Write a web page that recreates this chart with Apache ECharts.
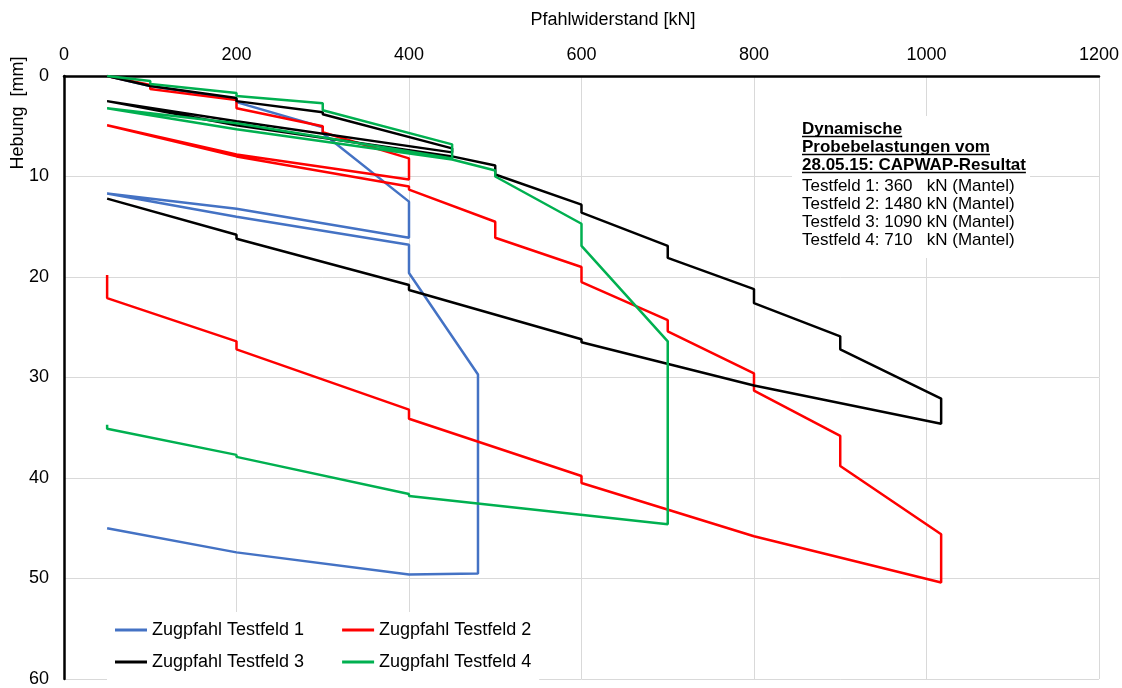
<!DOCTYPE html>
<html>
<head>
<meta charset="UTF-8">
<title>Pfahlwiderstand / Hebung</title>
<script src="https://cdn.jsdelivr.net/npm/echarts@6/dist/echarts.min.js"></script>
<style>
  html, body { margin: 0; padding: 0; background: #fff; }
  #main { width: 1122px; height: 688px; }
</style>
</head>
<body>
<div id="main"></div>
<script>
// Achsen
var xTicks = [0, 200, 400, 600, 800, 1000, 1200];
var yTicks = [0, 10, 20, 30, 40, 50, 60];

// Zugpfahl Testfeld 1 (Last kN / Hebung mm)
var load1  = [50, 100, 200, 200, 300, 300, 400, 400, 200, 50, 200, 400, 400, 480, 480, 400, 200, 50];
var heave1 = [0, 1.0, 2.3, 2.6, 5.1, 5.7, 12.5, 16.1, 13.2, 11.7, 14.0, 16.8, 19.6, 29.7, 49.5, 49.6, 47.4, 45.0];

// Zugpfahl Testfeld 2
var load2  = [50, 100, 100, 200, 200, 300, 300, 400, 400, 200, 50, 200, 400, 400, 500, 500, 600, 600, 700, 700, 800, 800, 900, 900, 1017, 1017, 800, 600, 600, 400, 400, 200, 200, 50, 50];
var heave2 = [0, 0.9, 1.3, 2.4, 3.2, 5.0, 5.6, 8.2, 10.3, 7.8, 4.9, 8.0, 11.0, 11.3, 14.5, 16.1, 19.0, 20.5, 24.3, 25.4, 29.6, 31.3, 35.8, 38.8, 45.6, 50.4, 45.8, 40.5, 39.8, 34.1, 33.2, 27.2, 26.4, 22.1, 19.8];

// Zugpfahl Testfeld 3
var load3  = [50, 100, 200, 200, 300, 300, 450, 450, 200, 50, 200, 450, 500, 500, 600, 600, 700, 700, 800, 800, 900, 900, 1017, 1017, 800, 600, 600, 400, 400, 200, 200, 50];
var heave3 = [0, 1.0, 2.2, 2.5, 3.6, 3.8, 7.2, 7.6, 4.5, 2.5, 4.9, 8.0, 8.9, 9.8, 12.8, 13.6, 16.9, 18.1, 21.2, 22.6, 25.9, 27.2, 32.1, 34.6, 30.8, 26.5, 26.2, 21.3, 20.8, 16.2, 15.8, 12.2];

// Zugpfahl Testfeld 4
var load4  = [50, 100, 100, 200, 200, 300, 300, 450, 450, 200, 50, 200, 450, 500, 500, 600, 600, 700, 700, 400, 400, 200, 200, 50, 50];
var heave4 = [0, 0.5, 0.8, 1.7, 2.0, 2.7, 3.4, 6.8, 8.2, 4.7, 3.2, 5.3, 8.3, 9.4, 10.0, 14.7, 16.9, 26.4, 44.6, 41.8, 41.6, 37.9, 37.7, 35.1, 34.7];

var seriesNames = ['Zugpfahl Testfeld 1', 'Zugpfahl Testfeld 2', 'Zugpfahl Testfeld 3', 'Zugpfahl Testfeld 4'];
var seriesColors = ['#4472C4', '#FF0000', '#000000', '#00B050'];

// Textkasten rechts oben
var boxTitle = ['Dynamische', 'Probebelastungen vom', '28.05.15: CAPWAP-Resultat'];
var boxLines = ['Testfeld 1: 360   kN (Mantel)', 'Testfeld 2: 1480 kN (Mantel)', 'Testfeld 3: 1090 kN (Mantel)', 'Testfeld 4: 710   kN (Mantel)'];

var FONT = '"Liberation Sans", Arial, sans-serif';

function pairs(xs, ys) {
  var out = [];
  for (var i = 0; i < xs.length; i++) out.push([xs[i], ys[i]]);
  return out;
}

var allData = [pairs(load1, heave1), pairs(load2, heave2), pairs(load3, heave3), pairs(load4, heave4)];

var series = [];
for (var s = 0; s < 4; s++) {
  series.push({
    name: seriesNames[s],
    type: 'line',
    data: allData[s],
    symbol: 'none',
    lineStyle: { color: seriesColors[s], width: 2.5 },
    itemStyle: { color: seriesColors[s] },
    animation: false
  });
}

// Breite der unterstrichenen Zeilen messen
var ctx = document.createElement('canvas').getContext('2d');
ctx.font = 'bold 17px ' + FONT;

var graphics = [
  { type: 'text', x: 613, y: 20, z: 100,
    style: { text: 'Pfahlwiderstand [kN]', font: '18px ' + FONT, fill: '#000', textAlign: 'center', verticalAlign: 'middle' } },
  { type: 'text', x: 18, y: 113, rotation: Math.PI / 2, z: 100,
    style: { text: 'Hebung  [mm]', font: '18px ' + FONT, fill: '#000', textAlign: 'center', verticalAlign: 'middle' } },
  { type: 'rect', shape: { x: 792, y: 116, width: 238, height: 142 }, z: 90,
    style: { fill: '#fff' } }
];
var bx = 802;
for (var i = 0; i < boxTitle.length; i++) {
  var yy = 129 + i * 18;
  graphics.push({ type: 'text', x: bx, y: yy, z: 100,
    style: { text: boxTitle[i], font: 'bold 17px ' + FONT, fill: '#000', textAlign: 'left', verticalAlign: 'middle' } });
  var w = ctx.measureText(boxTitle[i]).width;
  graphics.push({ type: 'line', z: 100, shape: { x1: bx, y1: yy + 7.5, x2: bx + w, y2: yy + 7.5 },
    style: { stroke: '#000', lineWidth: 1.3 } });
}
for (var j = 0; j < boxLines.length; j++) {
  graphics.push({ type: 'text', x: bx, y: 186 + j * 18.2, z: 100,
    style: { text: boxLines[j], font: '17px ' + FONT, fill: '#000', textAlign: 'left', verticalAlign: 'middle' } });
}

var legendBase = {
  orient: 'horizontal',
  left: 107,
  itemWidth: 32,
  itemHeight: 3,
  itemGap: 38,
  icon: 'rect',
  backgroundColor: '#fff',
  textStyle: { fontFamily: FONT, fontSize: 18, color: '#000' }
};

var chart = echarts.init(document.getElementById('main'));
chart.setOption({
  animation: false,
  backgroundColor: '#fff',
  grid: { left: 64, right: 22, top: 76, bottom: 6, containLabel: false },
  xAxis: {
    type: 'value',
    position: 'top',
    min: xTicks[0],
    max: xTicks[xTicks.length - 1],
    interval: xTicks[1] - xTicks[0],
    axisLine: { show: true, onZero: false, lineStyle: { color: '#000', width: 2.5 } },
    axisTick: { show: false },
    axisLabel: { margin: 12, color: '#000', fontFamily: FONT, fontSize: 18, formatter: function (v) { return String(v); } },
    splitLine: { show: true, lineStyle: { color: '#d9d9d9', width: 1 } }
  },
  yAxis: {
    type: 'value',
    inverse: true,
    min: yTicks[0],
    max: yTicks[yTicks.length - 1],
    interval: yTicks[1] - yTicks[0],
    axisLine: { show: true, onZero: false, lineStyle: { color: '#000', width: 2.5 } },
    axisTick: { show: false },
    axisLabel: { margin: 15, color: '#000', fontFamily: FONT, fontSize: 18, formatter: function (v) { return String(v); } },
    splitLine: { show: true, lineStyle: { color: '#d9d9d9', width: 1 } }
  },
  legend: [
    Object.assign({}, legendBase, { data: seriesNames.slice(0, 2), top: 612, padding: [9, 8, 7, 8] }),
    Object.assign({}, legendBase, { data: seriesNames.slice(2, 4), top: 646, padding: [7, 8, 9, 8] })
  ],
  graphic: graphics,
  series: series
});
</script>
</body>
</html>
